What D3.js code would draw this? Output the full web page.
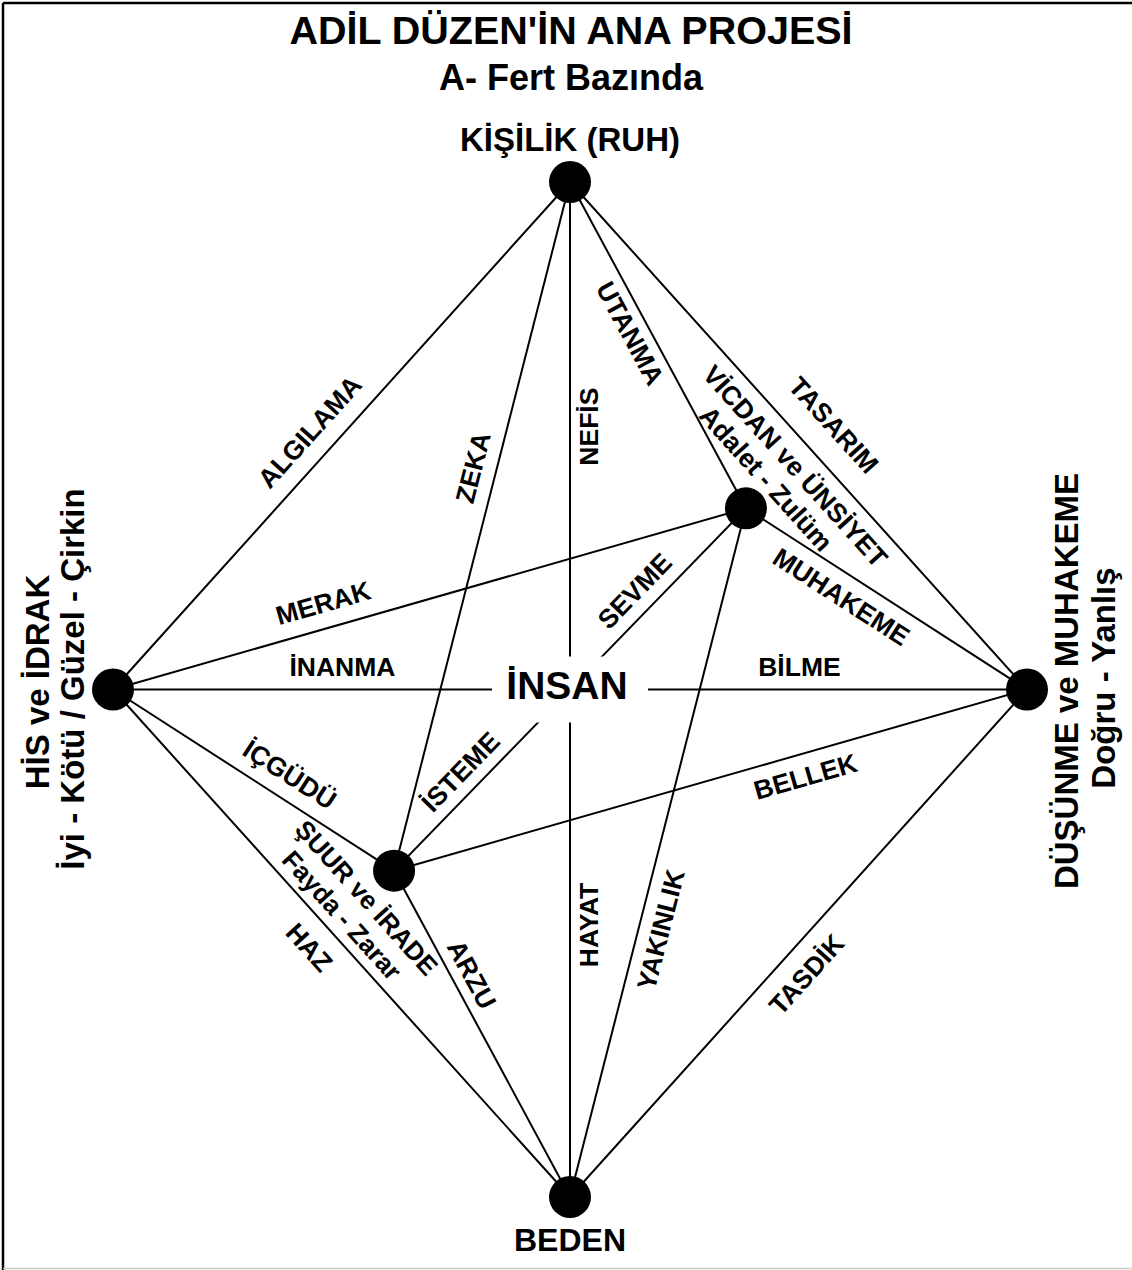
<!DOCTYPE html>
<html><head><meta charset="utf-8">
<script src="https://cdn.jsdelivr.net/npm/d3@7"></script>
<style>
html,body{margin:0;padding:0;background:#fff;}
text{font-family:"Liberation Sans",Arial,sans-serif;font-weight:bold;fill:#000;}
</style></head>
<body><svg id="c" width="1132" height="1270"></svg>
<script>
// ---- data ----
const titleLines = ["ADİL DÜZEN'İN ANA PROJESİ", "A- Fert Bazında"];
const centerLabel = "İNSAN";
const nodeIds = ["T", "L", "R", "B", "V", "S"];
const nodeNames = ["KİŞİLİK (RUH)", "HİS ve İDRAK", "DÜŞÜNME ve MUHAKEME", "BEDEN", "VİCDAN ve ÜNSİYET", "ŞUUR ve İRADE"];
const nodeSubs = ["", "İyi - Kötü / Güzel - Çirkin", "Doğru - Yanlış", "", "Adalet - Zulüm", "Fayda - Zarar"];
const edgeSources = ["L", "T", "T", "T", "T", "L", "L", "L", "L", "V", "S", "B", "V", "V", "S"];
const edgeTargets = ["T", "R", "B", "V", "S", "V", "R", "S", "B", "R", "R", "R", "S", "B", "B"];
const edgeLabels = ["ALGILAMA", "TASARIM", "NEFİS", "HAYAT", "UTANMA", "ZEKA", "MERAK", "İNANMA", "BİLME",
  "İÇGÜDÜ", "HAZ", "MUHAKEME", "BELLEK", "TASDİK", "SEVME", "İSTEME", "YAKINLIK", "ARZU"];
const edgeLabelEdge = [0, 1, 2, 2, 3, 4, 5, 6, 6, 7, 8, 9, 10, 11, 12, 12, 13, 14];

// ---- layout (abstract node coordinates, label placement along edges) ----
const nodeX = [0, -1, 1, 0, 0.385, -0.385];
const nodeY = [1, 0, 0, -1, 0.357, -0.357];
const labelT   = [0.473, 0.523, 0.241, 0.732, 0.436, 0.423, 0.343, 0.251, 0.751, 0.582, 0.473, 0.383, 0.640, 0.474, 0.271, 0.768, 0.604, 0.346];
const labelOff = [26, 33, -19, -19, -19, 23, 25, 23, 23, 24, -27, -23, -23, -27, 22, 21, -22, 19];

const SX = 1.0;
const svg = d3.select("#c");
const x = d3.scaleLinear().domain([-1, 1]).range([113, 1027]);
const y = d3.scaleLinear().domain([-1, 1]).range([1197, 182]);
const pos = {};
nodeIds.forEach((id, i) => pos[id] = [x(nodeX[i]), y(nodeY[i])]);

// frame
svg.append("line").attr("x1", 3).attr("y1", 3).attr("x2", 1132).attr("y2", 3).attr("stroke", "#000").attr("stroke-width", 2.5);
svg.append("line").attr("x1", 3).attr("y1", 3).attr("x2", 3).attr("y2", 1270).attr("stroke", "#000").attr("stroke-width", 2.5);
svg.append("line").attr("x1", 3).attr("y1", 1268.5).attr("x2", 1132).attr("y2", 1268.5).attr("stroke", "#ccc").attr("stroke-width", 1.5);

function stretchedText(g, str, cx, cy, deg, size) {
  const r = deg * Math.PI / 180;
  let d2 = Math.atan2(Math.sin(r), Math.cos(r) / SX) * 180 / Math.PI;
  return g.append("text").attr("transform", `translate(${cx},${cy}) scale(${SX},1) rotate(${d2})`)
    .attr("text-anchor", "middle").attr("dominant-baseline", "central")
    .attr("font-size", size).text(str);
}

// edges
const edges = edgeSources.map((s, i) => ({ s: pos[s], t: pos[edgeTargets[i]] }));
svg.append("g").selectAll("line").data(edges).join("line")
  .attr("x1", d => d.s[0]).attr("y1", d => d.s[1]).attr("x2", d => d.t[0]).attr("y2", d => d.t[1])
  .attr("stroke", "#000").attr("stroke-width", 2);

// center label with white knock-out
const cg = svg.append("g");
const cx0 = x(0), cy0 = (y(1) + y(-1)) / 2;
cg.append("rect").attr("x", cx0 - 78).attr("y", cy0 - 33).attr("width", 156).attr("height", 66).attr("fill", "#fff");
stretchedText(cg, centerLabel, cx0 - 3, cy0 - 4, 0, 39);

// edge labels
const lg = svg.append("g");
edgeLabels.forEach((lab, i) => {
  const e = edges[edgeLabelEdge[i]];
  const dx = e.t[0] - e.s[0], dy = e.t[1] - e.s[1];
  let ang = Math.atan2(dy, dx) * 180 / Math.PI;
  if (ang >= 90) ang -= 180;
  if (ang < -90) ang += 180;
  if (Math.abs(ang - 90) < 0.5) ang = -90;
  const r = ang * Math.PI / 180;
  const ux = Math.sin(r), uy = -Math.cos(r);
  const px = e.s[0] + dx * labelT[i] + ux * labelOff[i];
  const py = e.s[1] + dy * labelT[i] + uy * labelOff[i];
  stretchedText(lg, lab, px, py, ang, 26.5);
});

// nodes
svg.append("g").selectAll("circle").data(nodeIds).join("circle")
  .attr("cx", d => pos[d][0]).attr("cy", d => pos[d][1]).attr("r", 21).attr("fill", "#000");

// node labels
const ng = svg.append("g");
stretchedText(ng, nodeNames[0], pos.T[0], 139, 0, 33);
stretchedText(ng, nodeNames[3], pos.B[0], 1240, 0, 32);
stretchedText(ng, nodeNames[1], 37, 682, -90, 33);
stretchedText(ng, nodeSubs[1], 72, 679, -90, 33);
stretchedText(ng, nodeNames[2], 1066, 681, -90, 33);
stretchedText(ng, nodeSubs[2], 1103, 678, -90, 33);
function alongEdge(a, b, t, off, str, size) {
  const dx = pos[b][0] - pos[a][0], dy = pos[b][1] - pos[a][1];
  const ang = Math.atan2(dy, dx) * 180 / Math.PI;
  const r = ang * Math.PI / 180;
  const ux = Math.sin(r), uy = -Math.cos(r);
  stretchedText(ng, str, pos[a][0] + dx * t + ux * off, pos[a][1] + dy * t + uy * off, ang, size);
}
alongEdge("T", "R", 0.53, -23, nodeNames[4], 26.5);
alongEdge("T", "R", 0.515, -53, nodeSubs[4], 26.5);
alongEdge("L", "B", 0.475, 49, nodeNames[5], 26);
alongEdge("L", "B", 0.47, 19, nodeSubs[5], 26);

// title
const tg = svg.append("g");
stretchedText(tg, titleLines[0], 571, 30, 0, 39.5);
stretchedText(tg, titleLines[1], 571, 77, 0, 36);
</script></body></html>
